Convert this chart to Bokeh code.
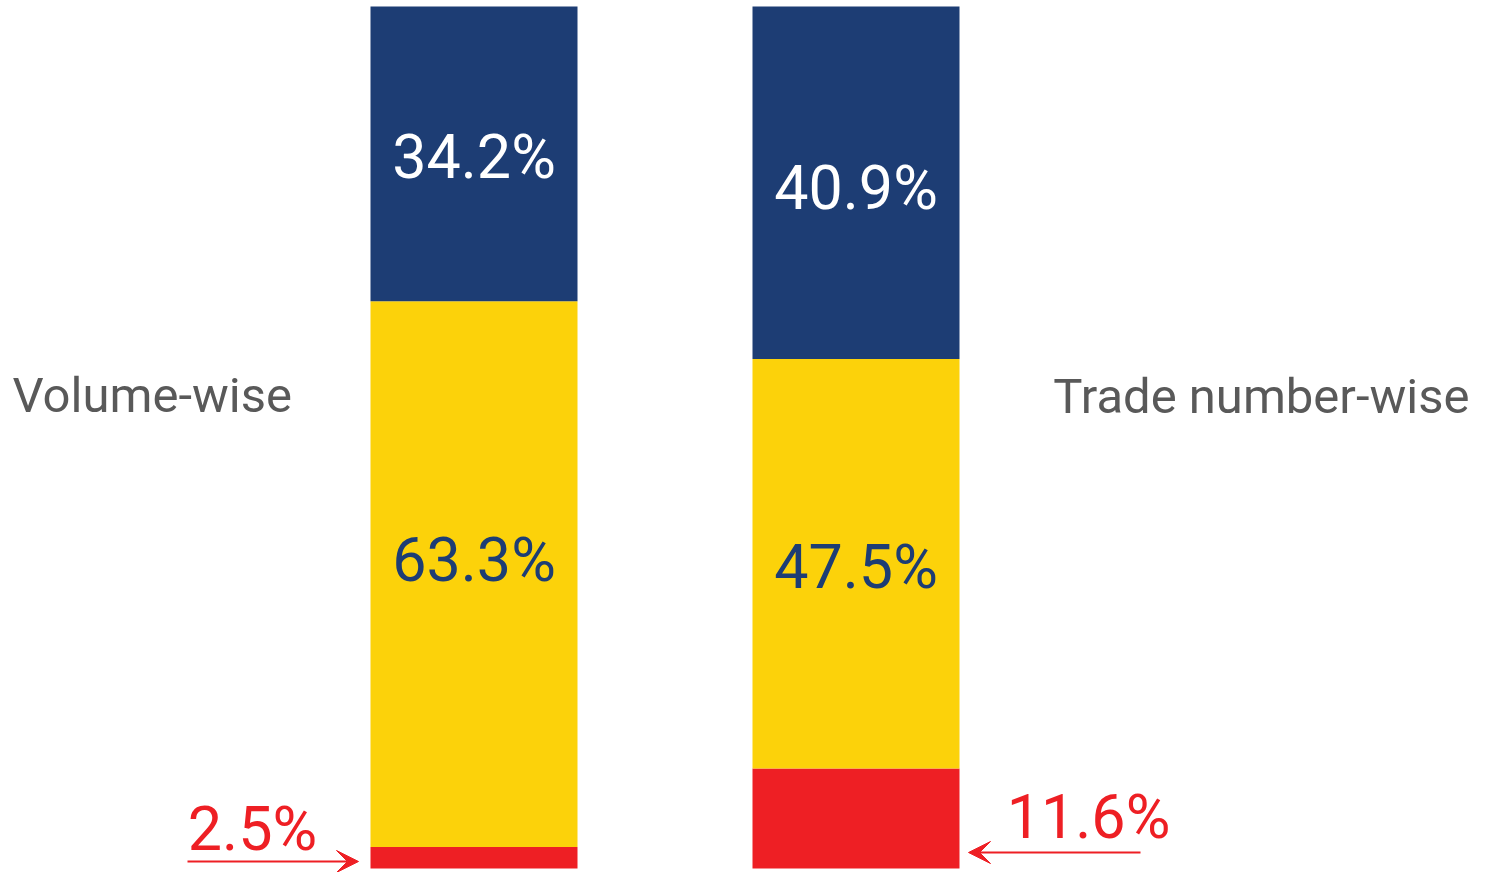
from bokeh.plotting import figure
from bokeh.models import ColumnDataSource, Range1d, Label, Arrow, VeeHead
from bokeh.core.properties import value
from bokeh.embed import file_html
from bokeh.resources import INLINE

# ---- data ----
groups = ["Volume-wise", "Trade number-wise"]
red_vals = [2.5, 11.6]
yellow_vals = [63.3, 47.5]
blue_vals = [34.2, 40.9]

BLUE = "#1d3d74"
YELLOW = "#fcd20a"
RED = "#ee1f24"
GREY = "#595959"
FONT = "Roboto"

W, H = 1490, 872
BAR_W = 207 / 382
UNIT = 382.0          # px per x unit
X0 = 473.5            # px of first bar centre
YTOP, YBOT = 6.0, 868.0
PPU = (YBOT - YTOP) / 100.0

def px(xpage):
    return (xpage - X0) / UNIT

def py(ypage):
    return 100 - (ypage - YTOP) / PPU

p = figure(width=W, height=H, output_backend="svg", toolbar_location=None,
           x_range=Range1d(px(0), px(W)), y_range=Range1d(py(H), py(0)),
           min_border=0)
p.axis.visible = False
p.grid.visible = False
p.outline_line_color = None
p.background_fill_color = "white"
p.border_fill_color = "white"

xs = list(range(len(groups)))
src = ColumnDataSource(dict(x=xs, red=red_vals, yellow=yellow_vals, blue=blue_vals))
p.vbar_stack(["red", "yellow", "blue"], x="x", width=BAR_W, source=src,
             fill_color=[RED, YELLOW, BLUE], line_color=None)

# labels inside bars (pixel nudges: yellow, blue per bar)
nudges = [(-14, 3), (3, 5)]
lx, ly, lt, lc, lo = [], [], [], [], []
for i in xs:
    r, yv, b = red_vals[i], yellow_vals[i], blue_vals[i]
    lx += [i, i]
    ly += [r + yv / 2, r + yv + b / 2]
    lt += [f"{yv}%", f"{b}%"]
    lc += [BLUE, "white"]
    lo += [nudges[i][0], nudges[i][1]]
lsrc = ColumnDataSource(dict(x=lx, y=ly, t=lt, c=lc, o=lo))
p.text(x="x", y="y", text="t", source=lsrc, text_color="c", y_offset="o",
       text_font=value(FONT), text_font_size="61px",
       text_align="center", text_baseline="middle")

# group titles
p.add_layout(Label(x=px(12), y=py(395), text=groups[0], text_font=FONT,
                   text_font_size="49px", text_color=GREY,
                   text_align="left", text_baseline="middle"))
p.add_layout(Label(x=px(1469), y=py(396), text=groups[1], text_font=FONT,
                   text_font_size="49px", text_color=GREY,
                   text_align="right", text_baseline="middle"))

# red callouts
p.add_layout(Label(x=px(252), y=py(828), text=f"{red_vals[0]}%", text_font=FONT,
                   text_font_size="61px", text_color=RED,
                   text_align="center", text_baseline="middle"))
p.add_layout(Label(x=px(1088), y=py(816), text=f"{red_vals[1]}%", text_font=FONT,
                   text_font_size="61px", text_color=RED,
                   text_align="center", text_baseline="middle"))

p.add_layout(Arrow(x_start=px(187), y_start=py(861), x_end=px(358), y_end=py(861),
                   line_color=RED, line_width=2,
                   end=VeeHead(size=22, fill_color=RED, line_color=RED, line_width=1)))
p.add_layout(Arrow(x_start=px(1140), y_start=py(852), x_end=px(968), y_end=py(852),
                   line_color=RED, line_width=2,
                   end=VeeHead(size=22, fill_color=RED, line_color=RED, line_width=1)))

open("out.html", "w").write(file_html(p, INLINE))
